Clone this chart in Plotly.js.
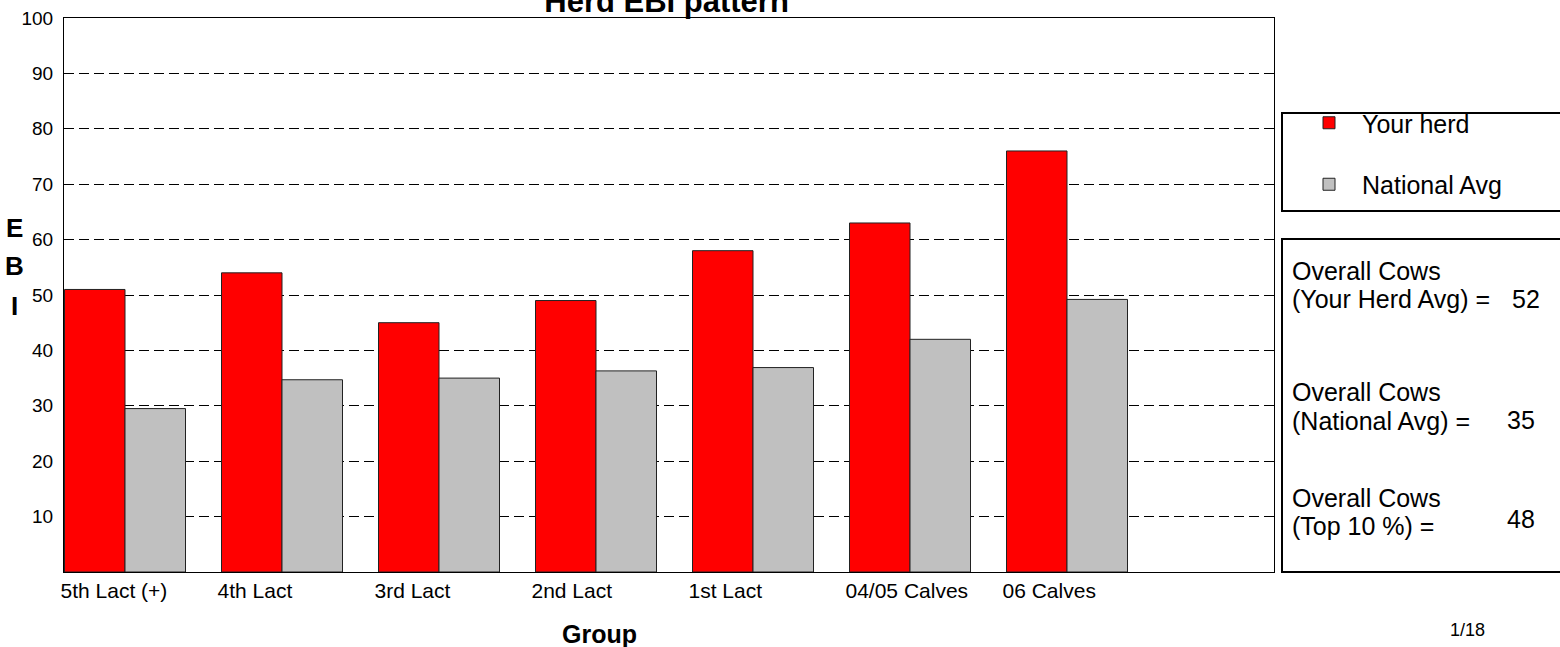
<!DOCTYPE html>
<html>
<head>
<meta charset="utf-8">
<script src="https://cdn.plot.ly/plotly-3.0.1.min.js"></script>
<style>
html,body{margin:0;padding:0;background:#fff;}
#chart{width:1560px;height:647px;}
</style>
</head>
<body>
<div id="chart"></div>
<script>
// ---- data ----
const categories = ['5th Lact (+)', '4th Lact', '3rd Lact', '2nd Lact', '1st Lact', '04/05 Calves', '06 Calves'];
const yourHerd = [51, 54, 45, 49, 58, 63, 76];
const nationalAvg = [29.5, 34.7, 35.0, 36.3, 36.9, 42.0, 49.2];
const seriesNames = ['Your herd', 'National Avg'];
const yTicks = [10, 20, 30, 40, 50, 60, 70, 80, 90, 100];
const summaryHeads = ['Overall Cows', 'Overall Cows', 'Overall Cows'];
const summaryLabels = ['(Your Herd Avg) =', '(National Avg) =', '(Top 10 %) ='];
const summaryValues = [52, 35, 48];

// ---- layout helpers ----
const W = 1560, H = 647;
const L = 64, R = 1274, T = 18, B = 572;
const px = x => (x - L) / (R - L);
const py = y => (B - y) / (B - T);
const FONT = 'Liberation Sans, Arial, sans-serif';

const xIdx = categories.map((c, i) => i);

const traces = [
  {type: 'bar', name: seriesNames[0], x: xIdx, y: yourHerd, legendgroup: 'a',
   marker: {color: '#ff0000', line: {color: '#222', width: 1}}, hoverinfo: 'y'},
  {type: 'bar', name: seriesNames[1], x: xIdx, y: nationalAvg, legendgroup: 'b',
   marker: {color: '#c0c0c0', line: {color: '#222', width: 1}}, hoverinfo: 'y'}
];

const annotations = [];
// Y axis title letters
const ebiY = [228, 266, 306];
'EBI'.split('').forEach((ch, i) => {
  annotations.push({text: '<b>' + ch + '</b>', xref: 'paper', yref: 'paper', x: px(14), y: py(ebiY[i]),
    xanchor: 'center', yanchor: 'middle', showarrow: false, font: {family: FONT, size: 26, color: '#000'}});
});
// X axis title
annotations.push({text: '<b>Group</b>', xref: 'paper', yref: 'paper', x: px(599), y: py(634),
  xanchor: 'center', yanchor: 'middle', showarrow: false, font: {family: FONT, size: 25, color: '#000'}});
// page number
annotations.push({text: '1/18', xref: 'paper', yref: 'paper', x: px(1467), y: py(630),
  xanchor: 'center', yanchor: 'middle', showarrow: false, font: {family: FONT, size: 18, color: '#000'}});
// summary box text
const headY = [271, 392, 498];
const labY = [299, 421, 526];
const valY = [299, 420, 519];
const valX = [1510, 1505, 1505];
summaryHeads.forEach((t, i) => {
  annotations.push({text: t, xref: 'paper', yref: 'paper', x: px(1290), y: py(headY[i]),
    xanchor: 'left', yanchor: 'middle', showarrow: false, font: {family: FONT, size: 25, color: '#000'}});
  annotations.push({text: summaryLabels[i], xref: 'paper', yref: 'paper', x: px(1290), y: py(labY[i]),
    xanchor: 'left', yanchor: 'middle', showarrow: false, font: {family: FONT, size: 25, color: '#000'}});
  annotations.push({text: String(summaryValues[i]), xref: 'paper', yref: 'paper', x: px(valX[i]), y: py(valY[i]),
    xanchor: 'left', yanchor: 'middle', showarrow: false, font: {family: FONT, size: 25, color: '#000'}});
});

const shapes = [
  {type: 'rect', xref: 'paper', yref: 'paper', x0: px(1282), x1: px(1700), y0: py(211), y1: py(113),
   line: {color: '#000', width: 2}, fillcolor: 'rgba(0,0,0,0)'},
  {type: 'rect', xref: 'paper', yref: 'paper', x0: px(1282), x1: px(1700), y0: py(572), y1: py(239),
   line: {color: '#000', width: 2}, fillcolor: 'rgba(0,0,0,0)'}
];

const unit = 157;
const groupHalf = 121 / 2 / unit;

const layout = {
  width: W, height: H,
  margin: {l: L, r: W - R, t: T, b: H - B, pad: 0},
  paper_bgcolor: '#fff', plot_bgcolor: '#fff',
  font: {family: FONT, color: '#000'},
  title: {text: '<b>Herd EBI pattern</b>', font: {family: FONT, size: 31, color: '#000'},
    xref: 'paper', x: 0.498, xanchor: 'center', yref: 'container', y: 0.998, yanchor: 'middle'},
  barmode: 'group', bargap: 36 / 157, bargroupgap: 0,
  xaxis: {type: 'linear', range: [(L - 125) / unit, (R - 125) / unit], showgrid: false, zeroline: false,
    tickvals: xIdx.map(i => i - groupHalf + 3 / unit), ticktext: categories,
    ticklabelposition: 'outside right', ticklabelshift: -8,
    ticks: 'outside', ticklen: 8, tickcolor: 'rgba(0,0,0,0)',
    tickfont: {family: FONT, size: 21, color: '#000'},
    showline: true, linecolor: '#000', linewidth: 1, mirror: true, fixedrange: true},
  yaxis: {range: [0, 100], tickvals: yTicks, showgrid: true, gridcolor: '#000', gridwidth: 1,
    griddash: '10px,5px', zeroline: false,
    ticks: 'outside', ticklen: 6, tickcolor: 'rgba(0,0,0,0)',
    tickfont: {family: FONT, size: 19, color: '#000'},
    showline: true, linecolor: '#000', linewidth: 1, mirror: true, fixedrange: true},
  showlegend: true,
  legend: {x: px(1296), y: py(100), xanchor: 'left', yanchor: 'top', xref: 'paper', yref: 'paper',
    font: {family: FONT, size: 25, color: '#000'}, bgcolor: 'rgba(0,0,0,0)', borderwidth: 0,
    traceorder: 'grouped', tracegroupgap: 26, itemwidth: 56},
  annotations: annotations,
  shapes: shapes
};

Plotly.newPlot('chart', traces, layout, {displayModeBar: false, staticPlot: true});
</script>
</body>
</html>
